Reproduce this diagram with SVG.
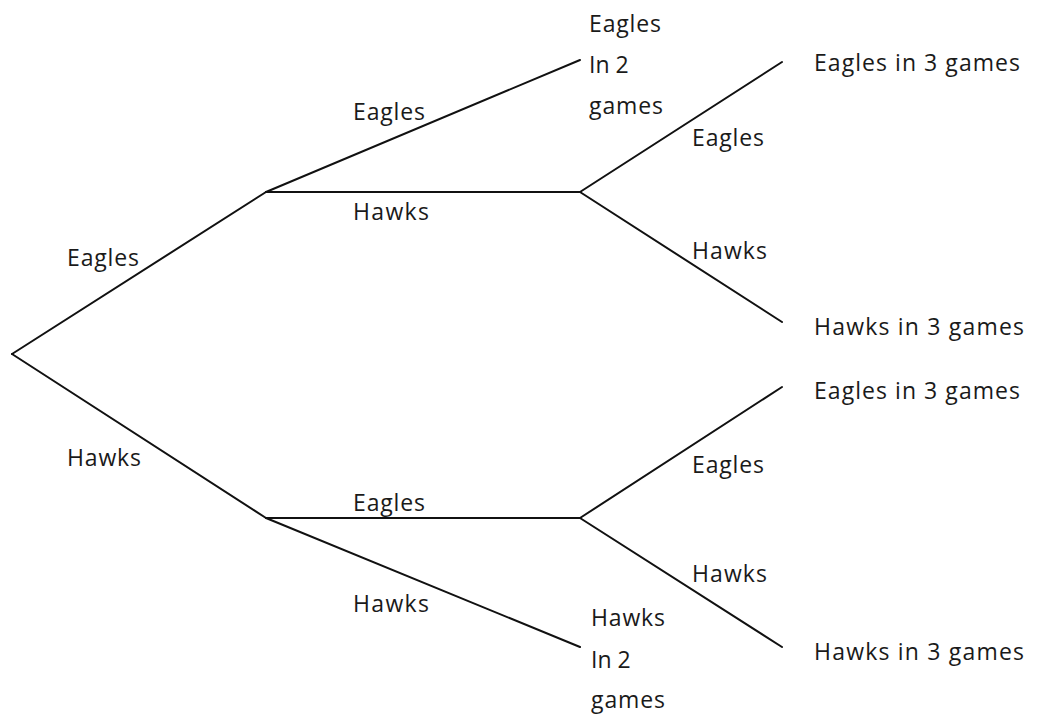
<svg xmlns="http://www.w3.org/2000/svg" width="1039" height="715" viewBox="0 0 1039 715">
<style>
.e{stroke:#111;stroke-width:2;fill:none;stroke-linecap:round}
text{font-family:"Open Sans","Noto Sans",sans-serif;font-size:23px;fill:#1a1a1a}
</style>
<rect width="1039" height="715" fill="#fff"/>
<g id="connectors">
<line class="e" x1="12" y1="354" x2="266" y2="192"/>
<line class="e" x1="12" y1="354" x2="266" y2="518"/>
<line class="e" x1="266" y1="192" x2="580" y2="60"/>
<line class="e" x1="266" y1="192" x2="580" y2="192"/>
<line class="e" x1="580" y1="192" x2="782" y2="62"/>
<line class="e" x1="580" y1="192" x2="782" y2="322"/>
<line class="e" x1="266" y1="518" x2="580" y2="518"/>
<line class="e" x1="266" y1="518" x2="580" y2="647"/>
<line class="e" x1="580" y1="518" x2="782" y2="387"/>
<line class="e" x1="580" y1="518" x2="782" y2="647"/>
</g>
<g id="edge-labels">
<text x="67" y="266" textLength="72" lengthAdjust="spacing">Eagles</text>
<text x="67" y="466" textLength="74" lengthAdjust="spacing">Hawks</text>
<text x="353" y="120" textLength="72" lengthAdjust="spacing">Eagles</text>
<text x="353" y="220" textLength="76" lengthAdjust="spacing">Hawks</text>
<text x="692" y="146" textLength="72" lengthAdjust="spacing">Eagles</text>
<text x="692" y="259" textLength="75" lengthAdjust="spacing">Hawks</text>
<text x="353" y="511" textLength="72" lengthAdjust="spacing">Eagles</text>
<text x="353" y="612" textLength="76" lengthAdjust="spacing">Hawks</text>
<text x="692" y="473" textLength="72" lengthAdjust="spacing">Eagles</text>
<text x="692" y="582" textLength="75" lengthAdjust="spacing">Hawks</text>
</g>
<g id="leaf-eagles-2">
<text x="589" y="32" textLength="72" lengthAdjust="spacing">Eagles</text>
<text x="589" y="73">In 2</text>
<text x="589" y="114" textLength="74" lengthAdjust="spacing">games</text>
</g>
<g id="leaf-hawks-2">
<text x="591" y="626" textLength="74" lengthAdjust="spacing">Hawks</text>
<text x="591" y="668">In 2</text>
<text x="591" y="708" textLength="74" lengthAdjust="spacing">games</text>
</g>
<g id="leaf-eagles-3a"><text x="814" y="71" textLength="206" lengthAdjust="spacing">Eagles in 3 games</text></g>
<g id="leaf-hawks-3a"><text x="814" y="335" textLength="210" lengthAdjust="spacing">Hawks in 3 games</text></g>
<g id="leaf-eagles-3b"><text x="814" y="399" textLength="206" lengthAdjust="spacing">Eagles in 3 games</text></g>
<g id="leaf-hawks-3b"><text x="814" y="660" textLength="210" lengthAdjust="spacing">Hawks in 3 games</text></g>
</svg>
